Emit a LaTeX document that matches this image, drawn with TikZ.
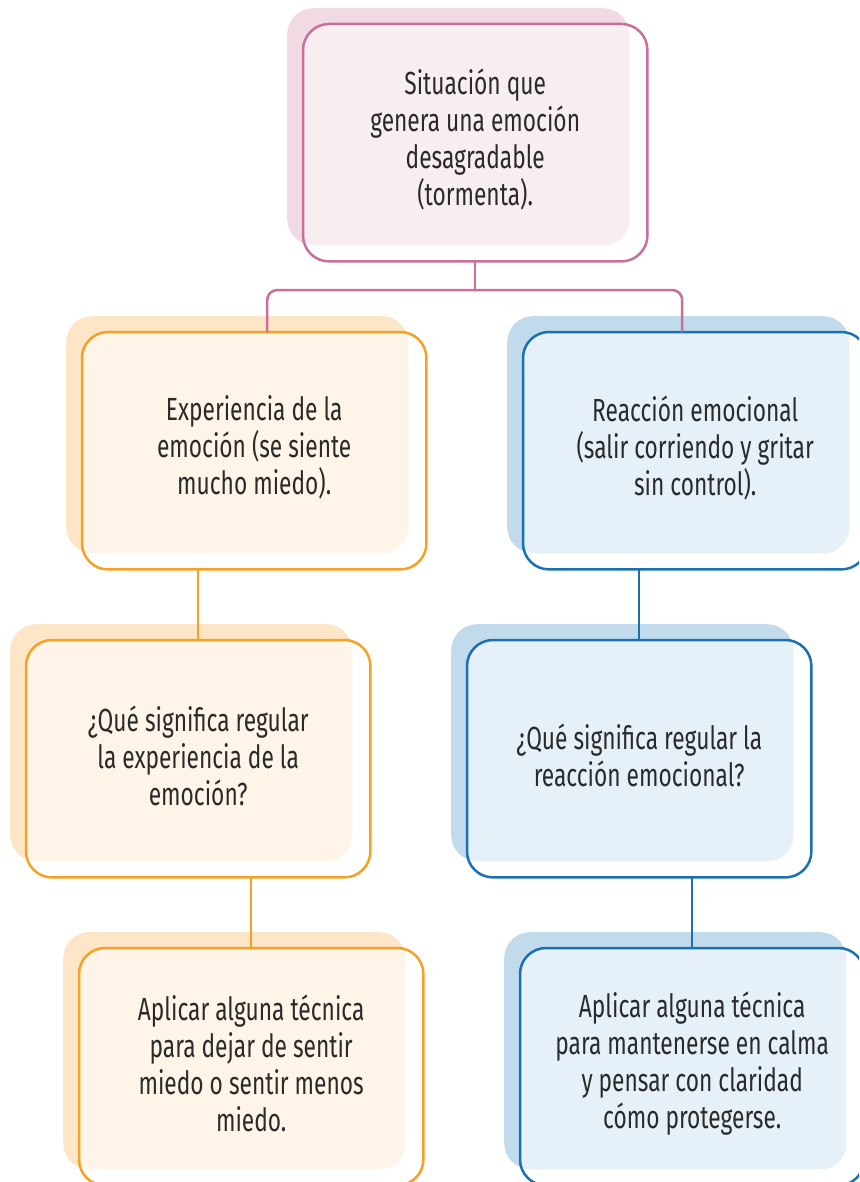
\documentclass[tikz,border=0pt]{standalone}
\usepackage{fontspec}
\setmainfont{Fira Sans}[FakeStretch=0.71]
\usetikzlibrary{calc}
\definecolor{pinkline}{HTML}{C96F9B}
\definecolor{pinkshade}{HTML}{F1DAE4}
\definecolor{pinklight}{HTML}{F8EEF2}
\definecolor{orline}{HTML}{F6A123}
\definecolor{orshade}{HTML}{FDE6C8}
\definecolor{orlight}{HTML}{FEF4E7}
\definecolor{blline}{HTML}{1B70B1}
\definecolor{blshade}{HTML}{C1DBEC}
\definecolor{bllight}{HTML}{E5F0F8}
\definecolor{txt}{HTML}{2A2A2A}
\tikzset{
  shadebox/.style={rectangle, minimum width=342pt, minimum height=237pt, inner sep=0pt, anchor=north west, rounded corners=26pt},
  outbox/.style={rectangle, minimum width=344pt, minimum height=237pt, inner sep=0pt, anchor=north west, rounded corners=26pt},
  lbl/.style={align=center, text=txt, font=\fontsize{32}{37}\selectfont, inner sep=0pt},
  conn/.style={line width=2.5pt},
}
\newcommand\cbox[7]{%
  \node[shadebox, fill=#4] (#1s) at (#2-16,-#3+16) {};
  \node[outbox, fill=white] (#1) at (#2,-#3) {};
  \begin{scope}
    \clip[rounded corners=26pt] (#1.south west) rectangle (#1.north east);
    \fill[#5, rounded corners=26pt] (#1s.south west) rectangle (#1s.north east);
  \end{scope}
  \draw[#6, line width=2.5pt, rounded corners=26pt] (#1.south west) rectangle (#1.north east);
  \node[lbl] (#1t) at ([yshift=3pt]#1.center) {#7};
}
\begin{document}
\begin{tikzpicture}[x=1pt,y=1pt]
\useasboundingbox (0,0) rectangle (859,-1182);
\clip (0,0) rectangle (859,-1182);
\cbox{top}{303}{24}{pinkshade}{pinklight}{pinkline}{Situación que\\genera una emoción\\desagradable\\(tormenta).}
\cbox{ltwo}{82}{332}{orshade}{orlight}{orline}{Experiencia de la\\emoción (se siente\\mucho miedo).}
\cbox{rtwo}{523}{332}{blshade}{bllight}{blline}{Reacción emocional\\(salir corriendo y gritar\\sin control).}
\cbox{lthree}{26}{640}{orshade}{orlight}{orline}{¿Qué significa regular\\la experiencia de la\\emoción?}
\cbox{rthree}{467}{640}{blshade}{bllight}{blline}{¿Qué significa regular la\\reacción emocional?}
\cbox{lfour}{79}{948}{orshade}{orlight}{orline}{Aplicar alguna técnica\\para dejar de sentir\\miedo o sentir menos\\miedo.}
\cbox{rfour}{520}{948}{blshade}{bllight}{blline}{Aplicar alguna técnica\\para mantenerse en calma\\y pensar con claridad\\cómo protegerse.}
\coordinate (j) at (475,-290);
\draw[pinkline, conn] (top.south) -- (top.south |- j);
\draw[pinkline, conn, rounded corners=10pt] ([xshift=13pt]ltwo.north) |- (j) -| ([xshift=-13pt]rtwo.north);
\draw[orline, conn] (lthree.north |- ltwo.south) -- (lthree.north);
\draw[blline, conn] (rthree.north |- rtwo.south) -- (rthree.north);
\draw[orline, conn] (lfour.north |- lthree.south) -- (lfour.north);
\draw[blline, conn] (rfour.north |- rthree.south) -- (rfour.north);
\end{tikzpicture}
\end{document}
